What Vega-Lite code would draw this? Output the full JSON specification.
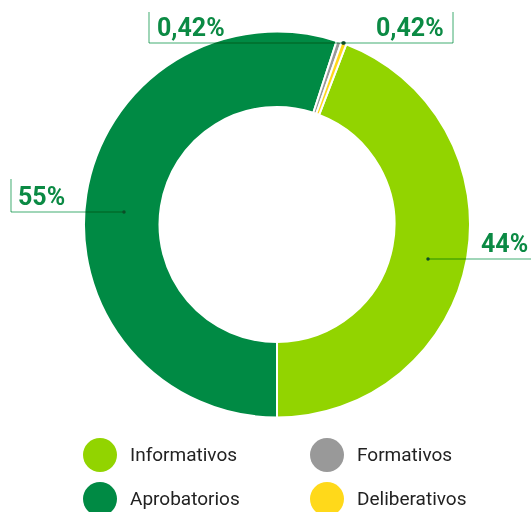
{
  "$schema": "https://vega.github.io/schema/vega-lite/v6.json",
  "width": 532,
  "height": 512,
  "autosize": {"type": "fit", "contains": "padding"},
  "padding": 0,
  "background": "white",
  "config": {"view": {"stroke": null}},
  "datasets": {
    "sectores": [
      {"categoria": "Informativos", "valor": 44.16, "orden": 1},
      {"categoria": "Aprobatorios", "valor": 55, "orden": 2},
      {"categoria": "Formativos", "valor": 0.42, "orden": 3},
      {"categoria": "Deliberativos", "valor": 0.42, "orden": 4}
    ],
    "guias": [
      {"x": -0.6615, "y": 1.0982, "x2": -0.6615, "y2": 0.938},
      {"x": -0.6615, "y": 0.938, "x2": 0.3411, "y2": 0.938},
      {"x": 0.9096, "y": 1.0982, "x2": 0.9096, "y2": 0.938},
      {"x": 0.3463, "y": 0.938, "x2": 0.9096, "y2": 0.938},
      {"x": -1.3747, "y": 0.2351, "x2": -1.3747, "y2": 0.0646},
      {"x": -1.3747, "y": 0.0646, "x2": -0.7907, "y2": 0.0646},
      {"x": 0.7804, "y": -0.1783, "x2": 1.3127, "y2": -0.1783}
    ],
    "puntos": [
      {"x": 0.3411, "y": 0.938},
      {"x": 0.3463, "y": 0.938},
      {"x": -0.7907, "y": 0.0646},
      {"x": 0.7804, "y": -0.1783}
    ],
    "etiquetas": [
      {"texto": "0,42%", "x": -0.6202, "y": 0.9742},
      {"texto": "0,42%", "x": 0.5116, "y": 0.9742},
      {"texto": "55%", "x": -1.3385, "y": 0.1008},
      {"texto": "44%", "x": 1.0542, "y": -0.1421}
    ]
  },
  "layer": [
    {
      "data": {"name": "sectores"},
      "mark": {"type": "arc", "innerRadius": 117.5, "outerRadius": 193, "stroke": "white", "strokeWidth": 2},
      "encoding": {
        "x": {"datum": 0, "type": "quantitative", "scale": {"domain": [-1.4315, 1.3178], "nice": false, "zero": false}, "axis": null},
        "y": {"datum": 0, "type": "quantitative", "scale": {"domain": [-1.4858, 1.1602], "nice": false, "zero": false}, "axis": null},
        "theta": {"field": "valor", "type": "quantitative", "stack": true, "scale": {"range": [0.3669, 6.6501]}},
        "color": {
          "field": "categoria",
          "type": "nominal",
          "scale": {
            "domain": ["Informativos", "Aprobatorios", "Formativos", "Deliberativos"],
            "range": ["#92d400", "#008a44", "#999999", "#ffd91a"]
          },
          "legend": {
            "title": null,
            "orient": "none",
            "legendX": 83,
            "legendY": 438,
            "columns": 2,
            "symbolType": "circle",
            "symbolSize": 1156,
            "symbolStrokeWidth": 0,
            "symbolOpacity": 1,
            "labelFont": "Roboto",
            "labelFontSize": 19,
            "labelColor": "#222222",
            "labelOffset": 13,
            "rowPadding": 10,
            "columnPadding": 70,
            "padding": 0
          }
        },
        "order": {"field": "orden", "type": "quantitative"}
      }
    },
    {
      "data": {"name": "guias"},
      "mark": {"type": "rule", "color": "#80c8a0", "strokeWidth": 1.5, "blend": "multiply"},
      "encoding": {
        "x": {"field": "x", "type": "quantitative", "scale": {"domain": [-1.4315, 1.3178], "nice": false, "zero": false}, "axis": null},
        "y": {"field": "y", "type": "quantitative", "scale": {"domain": [-1.4858, 1.1602], "nice": false, "zero": false}, "axis": null},
        "x2": {"field": "x2"},
        "y2": {"field": "y2"}
      }
    },
    {
      "data": {"name": "puntos"},
      "mark": {"type": "point", "filled": true, "size": 12, "color": "#0b4d27", "opacity": 1},
      "encoding": {
        "x": {"field": "x", "type": "quantitative", "axis": null},
        "y": {"field": "y", "type": "quantitative", "axis": null}
      }
    },
    {
      "data": {"name": "etiquetas"},
      "mark": {"type": "text", "align": "left", "baseline": "alphabetic", "font": "Roboto", "fontSize": 25, "fontWeight": "bold", "color": "#0b8a44"},
      "encoding": {
        "x": {"field": "x", "type": "quantitative", "axis": null},
        "y": {"field": "y", "type": "quantitative", "axis": null},
        "text": {"field": "texto"}
      }
    }
  ]
}
